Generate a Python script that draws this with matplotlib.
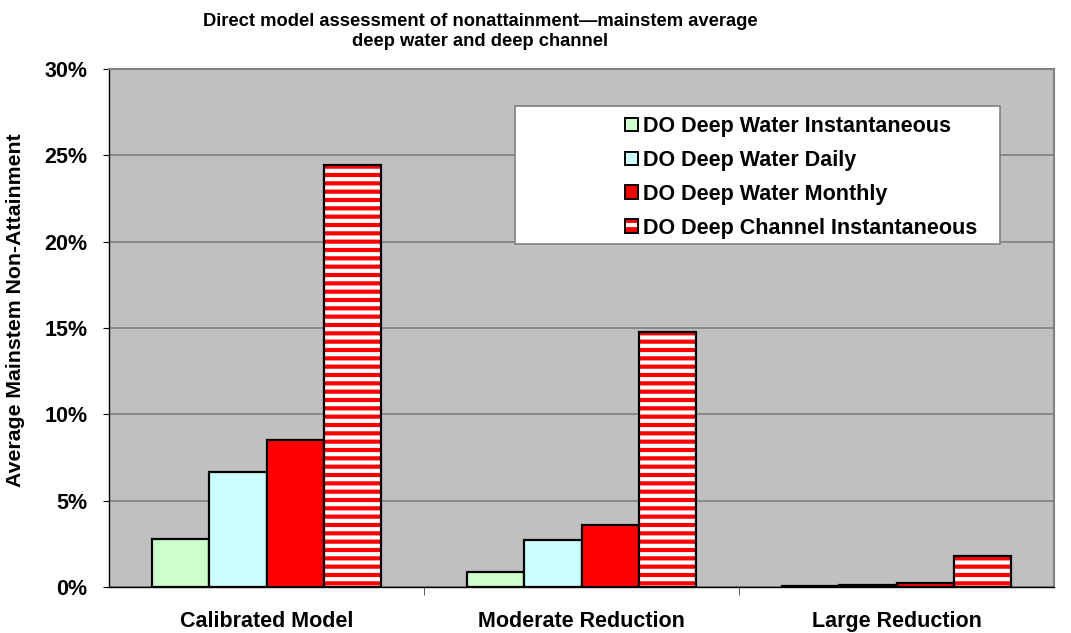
import matplotlib
matplotlib.use("Agg")
import matplotlib.pyplot as plt
from matplotlib.patches import Patch, Rectangle
from matplotlib.ticker import PercentFormatter, FixedLocator
import numpy as np

plt.rcParams['font.family'] = ['Liberation Sans', 'DejaVu Sans']
plt.rcParams['font.weight'] = 'bold'
plt.rcParams['hatch.linewidth'] = 3.0

categories = ['Calibrated Model', 'Moderate Reduction', 'Large Reduction']
series = ['DO Deep Water Instantaneous', 'DO Deep Water Daily',
          'DO Deep Water Monthly', 'DO Deep Channel Instantaneous']
dw_instant = [2.8, 0.85, 0.03]
dw_daily = [6.65, 2.7, 0.1]
dw_monthly = [8.5, 3.6, 0.25]
dc_instant = [24.45, 14.75, 1.8]
values = [dw_instant, dw_daily, dw_monthly, dc_instant]
colors = ['#CCFFCC', '#CCFFFF', '#FF0000', '#FF0000']

W, H = 1071, 633
fig = plt.figure(figsize=(W / 100, H / 100), dpi=100)
ax = fig.add_axes([109 / W, (H - 587) / H, 945 / W, (587 - 69) / H])
ax.set_facecolor('#C0C0C0')

x = np.arange(len(categories))
w = 0.182
handles = []
for i, (vals, c) in enumerate(zip(values, colors)):
    pos = x + (i - 1.5) * w
    if i == 3:
        # striped bar: white hatch on red, black outline on top
        ax.bar(pos, vals, w, color=c, edgecolor='white', hatch='--', linewidth=0, zorder=3)
        ax.bar(pos, vals, w, fill=False, edgecolor='black', linewidth=1.6, zorder=4)
        handles.append((Patch(facecolor=c, edgecolor='white', hatch='-', linewidth=0),
                        Patch(fill=False, edgecolor='black', linewidth=1.4)))
    else:
        ax.bar(pos, vals, w, color=c, edgecolor='black', linewidth=1.6, zorder=3)
        handles.append(Patch(facecolor=c, edgecolor='black', linewidth=1.4))

ax.set_xlim(-0.5, 2.5)
ax.set_ylim(0, 30)
ax.yaxis.set_major_locator(FixedLocator([0, 5, 10, 15, 20, 25, 30]))
ax.yaxis.set_major_formatter(PercentFormatter(decimals=0))
ax.grid(axis='y', color='#808080', linewidth=1.2, zorder=1)
ax.set_axisbelow(True)

ax.set_xticks(x)
ax.set_xticklabels(categories, fontsize=15.5, fontweight='bold')
ax.tick_params(axis='x', which='major', length=0, pad=17)
ax.set_xticks([0.5, 1.5], minor=True)
ax.tick_params(axis='x', which='minor', length=6, direction='out', color='#404040')
ax.tick_params(axis='y', length=4.5, direction='out', labelsize=15.5, pad=11)
for lab in ax.get_yticklabels():
    lab.set_fontweight('bold')

for s in ['top', 'right']:
    ax.spines[s].set_color('#808080')
    ax.spines[s].set_linewidth(1.5)
for s in ['left', 'bottom']:
    ax.spines[s].set_color('black')
    ax.spines[s].set_linewidth(1.0)

fig.text(16 / W, 1 - 310 / H, 'Average Mainstem Non-Attainment', rotation=90,
         ha='center', va='center', fontsize=15.3, fontweight='bold')

fig.text(480 / W, 1 - 22 / H, 'Direct model assessment of nonattainment\u2014mainstem average',
         ha='center', va='center', fontsize=13.2, fontweight='bold')
fig.text(480 / W, 1 - 41 / H, 'deep water and deep channel',
         ha='center', va='center', fontsize=13.2, fontweight='bold')

box = Rectangle((515 / W, 1 - 244 / H), 485 / W, 138 / H, transform=fig.transFigure,
                facecolor='white', edgecolor='#808080', linewidth=1.2, zorder=3)
fig.add_artist(box)
fig.legend(handles, series, loc='upper left', bbox_to_anchor=(610 / W, 1 - 101 / H),
           frameon=False, handlelength=0.6, handleheight=0.6, borderpad=0.2,
           handletextpad=0.25, labelspacing=0.6, prop={'weight': 'bold', 'size': 15.5})

fig.savefig('out.png', dpi=100)
